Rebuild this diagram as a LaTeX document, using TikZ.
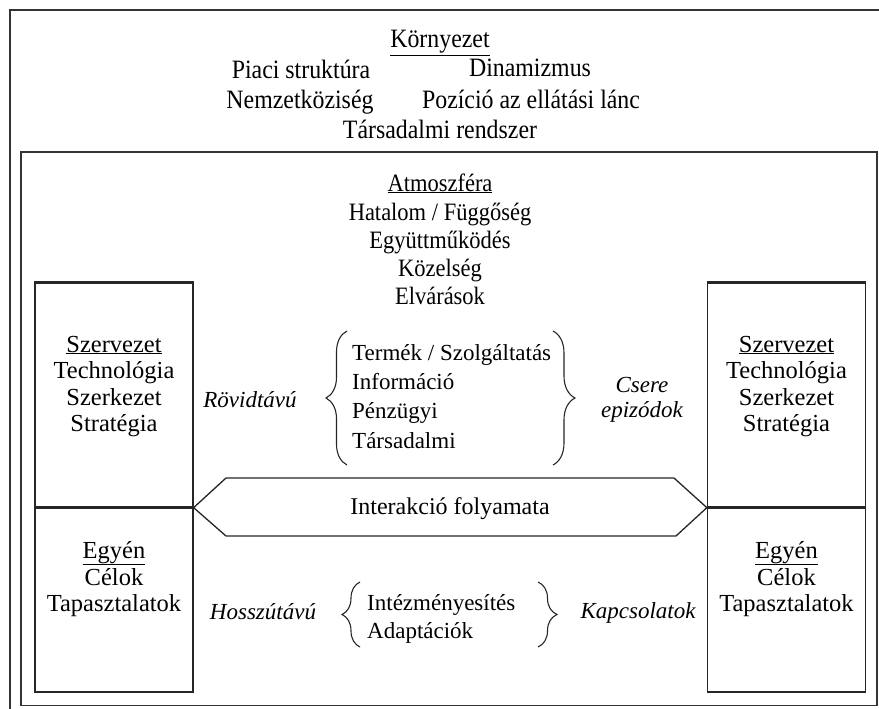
\documentclass[tikz,border=0pt]{standalone}
\usepackage{fontspec}
\setmainfont{Liberation Serif}
\newfontfamily\narrowserif[FakeStretch=0.9]{Liberation Serif}
\usetikzlibrary{decorations.pathreplacing}

\tikzset{
  frame/.style={draw=black!80, line width=1.3pt},
  txt/.style={anchor=base, inner sep=0pt, font=\fontsize{23}{27}\selectfont},
  boxtxt/.style={txt, font=\fontsize{24.5}{28}\selectfont},
  toptxt/.style={txt, font=\narrowserif\fontsize{26.5}{30}\selectfont},
  atmtxt/.style={txt, font=\narrowserif\fontsize{25}{30}\selectfont},
  itxt/.style={txt, font=\fontsize{23}{27}\selectfont\itshape},
  listtxt/.style={txt, anchor=base west},
  curly/.style={draw=black!85, decorate, decoration={brace, amplitude=#1}, line width=1.1pt},
  boxpart/.style={draw=black!85, line width=1.3pt, minimum width=158pt, inner sep=0pt},
  thickedge/.style={draw=black!85, line width=2.6pt},
}

\begin{document}
\begin{tikzpicture}[x=1pt, y=-1pt]
  \useasboundingbox (0,0) rectangle (879,709);
  \fill[white] (0,0) rectangle (879,709);

  % outer (environment) and inner (atmosphere) frames
  \draw[frame] (10,720) -- (10,10) -- (890,10);
  \draw[frame] (21,152) rectangle (877,705.5);

  % environment
  \node[toptxt] (env)   at (440,48)  {\underline{Környezet}};
  \node[toptxt] (piac)  at (301,79)  {Piaci struktúra};
  \node[toptxt] (dyn)   at (530,77)  {Dinamizmus};
  \node[toptxt] (intl)  at (300,109) {Nemzetköziség};
  \node[toptxt] (pos)   at (531,109) {Pozíció az ellátási lánc};
  \node[toptxt] (soc)   at (440,139) {Társadalmi rendszer};

  % atmosphere
  \node[atmtxt] (atm)  at (440,191) {\underline{Atmoszféra}};
  \node[atmtxt] (pow)  at (440,220) {Hatalom / Függőség};
  \node[atmtxt] (coop) at (440,248) {Együttműködés};
  \node[atmtxt] (clos) at (440,276) {Közelség};
  \node[atmtxt] (expc) at (440,304) {Elvárások};

  % party boxes
  \node[boxpart, minimum height=224pt] (lorg) at (114,395)   {};
  \node[boxpart, minimum height=185pt] (lind) at (114,599.5) {};
  \node[boxpart, minimum height=224pt] (rorg) at (786.5,395)   {};
  \node[boxpart, minimum height=185pt] (rind) at (786.5,599.5) {};
  \draw[thickedge] (lorg.north west) -- (lorg.north east);
  \draw[thickedge] (rorg.north west) -- (rorg.north east);
  \draw[thickedge] (lorg.south west) -- (lorg.south east);
  \draw[thickedge] (rorg.south west) -- (rorg.south east);

  \foreach \side/\cx in {l/114, r/786.5} {
    \node[boxtxt] (\side o1) at (\cx,352) {\underline{Szervezet}};
    \node[boxtxt] (\side o2) at (\cx,378) {Technológia};
    \node[boxtxt] (\side o3) at (\cx,405) {Szerkezet};
    \node[boxtxt] (\side o4) at (\cx,431) {Stratégia};
    \node[boxtxt] (\side i1) at (\cx,558) {\underline{Egyén}};
    \node[boxtxt] (\side i2) at (\cx,585) {Célok};
    \node[boxtxt] (\side i3) at (\cx,611) {Tapasztalatok};
  }

  % interaction process arrow
  \draw[draw=black!85, line width=1.3pt]
    (lorg.south east) -- (226,478) -- (674,478) -- (rorg.south west)
    -- (676,536) -- (226,536) -- cycle;
  \node[txt, font=\fontsize{24}{28}\selectfont] (proc) at (450,514) {Interakció folyamata};

  % short term: exchange episodes
  \node[itxt] (short) at (250,407) {Rövidtávú};
  \draw[curly=21] (347,465) -- (347,331);
  \node[listtxt] (ex1) at (352,360) {Termék / Szolgáltatás};
  \node[listtxt] (ex2) at (352,389) {Információ};
  \node[listtxt] (ex3) at (352,418) {Pénzügyi};
  \node[listtxt] (ex4) at (352,448) {Társadalmi};
  \draw[curly=22] (553,331) -- (553,465);
  \node[itxt] (ep1) at (642,392) {Csere};
  \node[itxt] (ep2) at (642,417) {epizódok};

  % long term: relationships
  \node[itxt] (long) at (263,619) {Hosszútávú};
  \draw[curly=18] (360,647) -- (360,582);
  \node[listtxt] (lt1) at (367,610) {Intézményesítés};
  \node[listtxt] (lt2) at (367,638) {Adaptációk};
  \draw[curly=19] (538,582) -- (538,647);
  \node[itxt] (rel) at (638,618) {Kapcsolatok};
\end{tikzpicture}
\end{document}
